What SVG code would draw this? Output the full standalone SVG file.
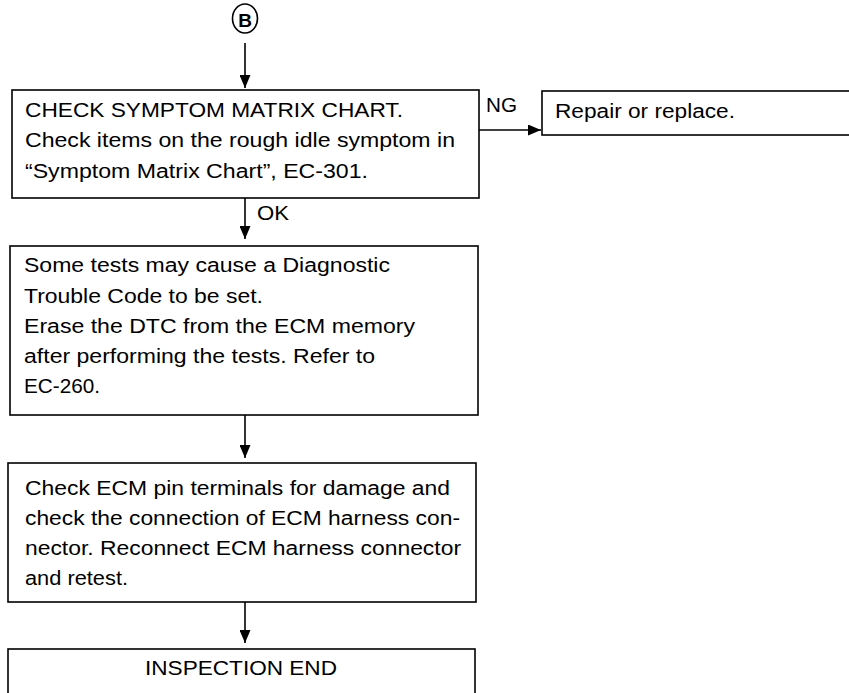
<svg xmlns="http://www.w3.org/2000/svg" width="849" height="693" viewBox="0 0 849 693">
<style>
.box{fill:#fff;stroke:#000;stroke-width:1.6}
.t{font-family:"Liberation Sans",Arial,sans-serif;font-size:19.5px;fill:#000}
.c{fill:none;stroke:#000;stroke-width:1.6}
</style>
<defs>
<marker id="ah" viewBox="0 0 13 11" refX="13" refY="5.5" markerWidth="13" markerHeight="11" markerUnits="userSpaceOnUse" orient="auto">
<path d="M0,0 L13,5.5 L0,11 Z" fill="#000"/>
</marker>
</defs>
<rect width="849" height="693" fill="#fff"/>
<g id="connectors">
<line class="c" x1="245" y1="43" x2="245" y2="88" marker-end="url(#ah)"/>
<line class="c" x1="479" y1="130" x2="541" y2="130" marker-end="url(#ah)"/>
<text class="t" x="486" y="112" textLength="31" lengthAdjust="spacingAndGlyphs">NG</text>
<line class="c" x1="245" y1="198" x2="245" y2="239" marker-end="url(#ah)"/>
<text class="t" x="257" y="220" textLength="32" lengthAdjust="spacingAndGlyphs">OK</text>
<line class="c" x1="245" y1="415" x2="245" y2="458" marker-end="url(#ah)"/>
<line class="c" x1="245" y1="602" x2="245" y2="643" marker-end="url(#ah)"/>
</g>
<g id="nodeB">
<ellipse cx="245" cy="18.5" rx="12.5" ry="14.5" fill="#fff" stroke="#000" stroke-width="1.6"/>
<text x="245" y="26.5" text-anchor="middle" font-family="Liberation Sans,Arial,sans-serif" font-size="19" font-weight="bold">B</text>
</g>
<g id="check-symptom">
<rect class="box" x="12" y="90" width="467" height="108"/>
<text class="t" x="25" y="117" textLength="378" lengthAdjust="spacingAndGlyphs">CHECK SYMPTOM MATRIX CHART.</text>
<text class="t" x="25" y="147" textLength="430" lengthAdjust="spacingAndGlyphs">Check items on the rough idle symptom in</text>
<text class="t" x="25" y="178" textLength="343" lengthAdjust="spacingAndGlyphs">“Symptom Matrix Chart”, EC-301.</text>
</g>
<g id="repair">
<rect class="box" x="542" y="91" width="320" height="44"/>
<text class="t" x="555" y="118" textLength="180" lengthAdjust="spacingAndGlyphs">Repair or replace.</text>
</g>
<g id="dtc-note">
<rect class="box" x="10" y="246" width="468" height="169"/>
<text class="t" x="24" y="272" textLength="366" lengthAdjust="spacingAndGlyphs">Some tests may cause a Diagnostic</text>
<text class="t" x="24" y="303" textLength="239" lengthAdjust="spacingAndGlyphs">Trouble Code to be set.</text>
<text class="t" x="24" y="333" textLength="391" lengthAdjust="spacingAndGlyphs">Erase the DTC from the ECM memory</text>
<text class="t" x="24" y="363" textLength="351" lengthAdjust="spacingAndGlyphs">after performing the tests. Refer to</text>
<text class="t" x="24" y="393" textLength="76" lengthAdjust="spacingAndGlyphs">EC-260.</text>
</g>
<g id="check-ecm">
<rect class="box" x="8" y="463" width="468" height="139"/>
<text class="t" x="25" y="495" textLength="425" lengthAdjust="spacingAndGlyphs">Check ECM pin terminals for damage and</text>
<text class="t" x="25" y="525" textLength="435" lengthAdjust="spacingAndGlyphs">check the connection of ECM harness con-</text>
<text class="t" x="25" y="555" textLength="436" lengthAdjust="spacingAndGlyphs">nector. Reconnect ECM harness connector</text>
<text class="t" x="25" y="585" textLength="103" lengthAdjust="spacingAndGlyphs">and retest.</text>
</g>
<g id="inspection-end">
<rect class="box" x="8" y="649" width="467" height="60"/>
<text class="t" x="241" y="675" text-anchor="middle" textLength="192" lengthAdjust="spacingAndGlyphs">INSPECTION END</text>
</g>
</svg>
